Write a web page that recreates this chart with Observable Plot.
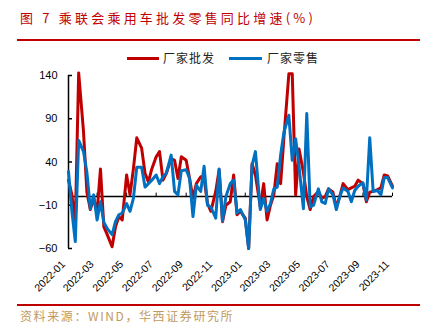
<!DOCTYPE html>
<html><head><meta charset="utf-8">
<script src="https://cdn.jsdelivr.net/npm/d3@7"></script>
<script src="https://cdn.jsdelivr.net/npm/@observablehq/plot@0.6"></script>
<style>
body{margin:0;background:#fff;}
#wrap{position:relative;width:430px;height:327px;overflow:hidden;font-family:"Noto Sans CJK SC",sans-serif;}
.title{position:absolute;left:20px;top:10px;font-size:13px;letter-spacing:3.2px;color:#c00000;line-height:16px;white-space:nowrap;}
.rule{position:absolute;left:17px;width:403px;height:2px;background:#c00000;}
.leg{position:absolute;top:50px;font-size:12px;line-height:16px;letter-spacing:1px;color:#222;white-space:nowrap;}
.sw{position:absolute;top:57px;height:3px;}
.src{position:absolute;left:20px;top:309px;font-size:12px;letter-spacing:1.6px;color:#bf9a5e;line-height:14px;white-space:nowrap;}
#chart{position:absolute;left:0;top:60px;}
</style></head><body>
<div id="wrap">
  <div class="title">图 7 乘联会乘用车批发零售同比增速(%)</div>
  <div class="rule" style="top:39px"></div>
  <div class="sw" style="left:127px;width:32px;background:#c00000"></div>
  <div class="leg" style="left:163px">厂家批发</div>
  <div class="sw" style="left:229px;width:33px;background:#0070c0"></div>
  <div class="leg" style="left:267px">厂家零售</div>
  <div id="chart"></div>
  <div class="rule" style="top:304px"></div>
  <div class="src">资料来源：WIND，华西证券研究所</div>
</div>
<script>
const seriesNames = ["厂家批发", "厂家零售"];
const months = ["2022-01","2022-03","2022-05","2022-07","2022-09","2022-11","2023-01","2023-03","2023-05","2023-07","2023-09","2023-11"];
const yTicks = [-60, -10, 40, 90, 140];
// 厂家批发 (weekly readings, 4 per month)
const wholesale = [19,2,-31,143, 75,5,-15,-2, -18,32,-35,-44, -58,-35,-23,-27,
  25,2,32,68, 56,27,17,32, 46,52,19,27, 44,42,21,46,
  42,21,-2,15, 23,21,-8,-17, 6,31,-29,-10, -6,25,-21,-17,
  -25,-60,38,25, -12,15,-27,-10, 2,38,15,70, 142,142,2,55,
  28,0,-15,0, 6,-2,0,9, 5,-12,0,15, 8,10,12,19,
  15,-6,5,6, 8,10,25,24, 12];
// 厂家零售
const retail = [29,-17,-52,65, 52,28,-14,2, -27,-6,-30,-37, -44,-29,-21,-19,
  -8,-17,-2,34, 34,11,15,19, 25,15,23,27, 48,6,2,30,
  31,21,-23,13, 6,35,-10,-12, -25,32,-28,0, 15,19,-19,-15,
  -27,-60,36,52, -15,-2,-17,-8, 9,11,48,75, 94,42,67,35,
  -14,96,-12,-10, 9,-6,-8,9, 2,-15,0,10, 6,-6,7,12,
  16,-4,68,6, 7,2,22,22, 10];
const perMonth = 4;
const dates = wholesale.map((_, i) => new Date(Date.UTC(2022, Math.floor(i / perMonth), 1 + 7 * (i % perMonth))));
const wData = dates.map((d, i) => ({date: d, v: wholesale[i]}));
const rData = dates.map((d, i) => ({date: d, v: retail[i]}));
const tickDates = months.map(m => new Date(m + "-01T00:00:00Z"));

const chart = Plot.plot({
  width: 430, height: 240,
  marginTop: 15, marginBottom: 52, marginLeft: 68, marginRight: 38,
  style: {fontFamily: "'Liberation Sans', Arial, sans-serif", fontSize: "11px", color: "#000", background: "transparent"},
  x: {type: "utc", domain: [dates[0], dates[dates.length - 1]]},
  y: {domain: [-60, 140]},
  marks: [
    Plot.axisY(yTicks, {tickSize: -4, tickPadding: 15, label: null, stroke: "#000", strokeWidth: 1.5, fontSize: 11}),
    Plot.axisX(tickDates, {tickSize: 0, tickPadding: 14, dx: -5, tickRotate: -45, tickFormat: d3.utcFormat("%Y-%m"), label: null, fontSize: 10.5}),
    Plot.ruleX([dates[0]], {y1: -60, y2: 140, stroke: "#000", strokeWidth: 1.5}),
    Plot.ruleY([0], {stroke: "#000", strokeWidth: 1.5}),
    Plot.ruleX(tickDates, {y1: 0, y2: 4, stroke: "#000", strokeWidth: 1}),
    Plot.lineY(wData, {x: "date", y: "v", stroke: "#c00000", strokeWidth: 3}),
    Plot.lineY(rData, {x: "date", y: "v", stroke: "#0070c0", strokeWidth: 3})
  ]
});
document.getElementById("chart").appendChild(chart);
</script>
</body></html>
